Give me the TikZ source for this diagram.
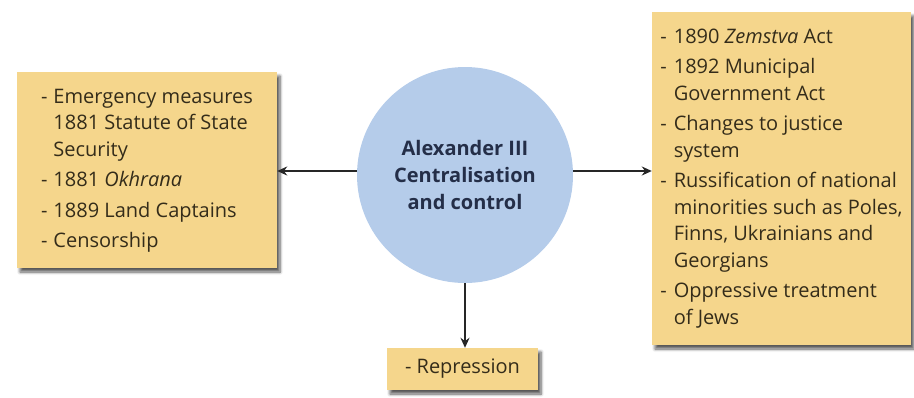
\documentclass[tikz,border=0pt]{standalone}
\usepackage{fontspec}
\setmainfont{Open Sans}
\usetikzlibrary{arrows.meta,shadows.blur}
\definecolor{boxfill}{RGB}{245,214,140}
\definecolor{circfill}{RGB}{181,204,234}
\definecolor{txt}{RGB}{52,44,26}
\definecolor{ctxt}{RGB}{36,46,72}
\newcommand{\itemgap}{\\[4pt]}
\begin{document}
\begin{tikzpicture}[x=1pt,y=-1pt,
  box/.style={fill=boxfill, draw=none, inner sep=0pt, text=txt,
    font=\fontsize{20}{26.5}\selectfont,
    blur shadow={shadow xshift=3pt, shadow yshift=-4pt, shadow blur steps=6, shadow blur radius=3pt, shadow opacity=65}},
  hub/.style={circle, fill=circfill, draw=none, inner sep=0pt, minimum size=216pt, text=ctxt,
    font=\fontsize{20}{27}\selectfont\bfseries, align=center},
  arr/.style={-{Stealth[length=10pt,width=9pt]}, line width=2.2pt, black!85}]
\useasboundingbox (0,0) rectangle (914,397);

\node[hub] (C) at (465,175) {Alexander III\\Centralisation\\and control};

\node[box, minimum width=260pt, minimum height=196pt] (L) at (147,170) {%
\begin{tabular}{@{}l@{\hspace{6pt}}l@{}}
- & Emergency measures\\
  & 1881 Statute of State\\
  & Security\itemgap
- & 1881 \textit{Okhrana}\itemgap
- & 1889 Land Captains\itemgap
- & Censorship
\end{tabular}};

\node[box, minimum width=259pt, minimum height=333pt] (R) at (781.5,178.5) {%
\begin{tabular}{@{}l@{\hspace{7pt}}l@{}}
- & 1890 \textit{Zemstva} Act\itemgap
- & 1892 Municipal\\
  & Government Act\itemgap
- & Changes to justice\\
  & system\itemgap
- & Russification of national\\
  & minorities such as Poles,\\
  & Finns, Ukrainians and\\
  & Georgians\itemgap
- & Oppressive treatment\\
  & of Jews
\end{tabular}};

\node[box, minimum width=151pt, minimum height=42pt] (P) at (462.5,369) {- Repression};

\draw[arr] ([yshift=4pt]C.west) -- ([yshift=4pt]C.west -| L.east);
\draw[arr] ([yshift=4pt]C.east) -- ([yshift=4pt]C.east -| R.west);
\draw[arr] (C.south) -- (C.south |- P.north);
\end{tikzpicture}
\end{document}
